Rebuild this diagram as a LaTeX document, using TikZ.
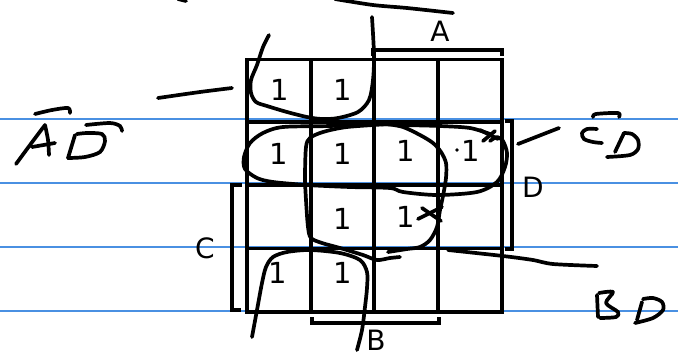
\documentclass[tikz,border=0pt]{standalone}
\usepackage{fontspec}
\setmainfont{DejaVu Sans}
\definecolor{ruleblue}{RGB}{74,144,226}
\begin{document}
\begin{tikzpicture}[x=1pt,y=-1pt,
  gridline/.style={line width=3.7pt, line cap=rect},
  ruled/.style={draw=ruleblue, line width=1.2pt},
  hand/.style={line width=3.7pt, line cap=round, line join=round},
  brk/.style={line width=3.3pt, line cap=butt, line join=miter},
  one/.style={font=\fontsize{29}{34}\selectfont, inner sep=0pt},
  lab/.style={font=\fontsize{28}{33}\selectfont, inner sep=0pt}]
\useasboundingbox (0,0) rectangle (678,360);
% ruled paper lines
\foreach \y in {119,183,247,311} \draw[ruled] (0,\y) -- (678,\y);
% K-map grid
\draw[gridline] (247,59.5) rectangle (502,312);
\foreach \x in {311,374,438} \draw[gridline] (\x,59.5) -- (\x,312);
\foreach \y in {122,185,248.5} \draw[gridline] (247,\y) -- (502,\y);
% brackets
\draw[brk] (373,56) -- (373,50) -- (502,50) -- (502,56);
\draw[brk] (505,121) -- (512,121) -- (512,249) -- (505,249);
\draw[brk] (242,185) -- (232,185) -- (232,310) -- (241,310);
\draw[brk] (312,317) -- (312,323) -- (439,323) -- (439,317);
\node[lab] (lA) at (440,31) {A};
\node[lab] (lD) at (533,187) {D};
\node[lab] (lC) at (205,248) {C};
\node[lab] (lB) at (376,340) {B};
% cell entries
\node[one] (c11) at (280,90) {1};
\node[one] (c12) at (343,90) {1};
\node[one] (c21) at (279,154) {1};
\node[one] (c22) at (343,154) {1};
\node[one] (c23) at (406,151) {1};
\node[one] (c24) at (471,151) {1};
\node[one] (c32) at (343,219) {1};
\node[one] (c33) at (406,217) {1};
\node[one] (c41) at (278,273) {1};
\node[one] (c42) at (343,273) {1};
\fill (457,150) circle (1.9);
% handwritten group loops
\draw[hand] plot[smooth] coordinates {(269,35) (263,47) (257,65) (251,80) (251,93) (256,102) (267,106) (287,112) (307,117) (322,119) (338,118) (358,112) (369,100) (373,80) (374,55) (372,17)};
\draw[hand] plot[smooth] coordinates {(490,134) (470,128) (440,126) (403,125) (370,124) (330,126) (283,127) (263,133) (250,143) (244,157) (245,169) (257,178) (273,182) (307,185) (350,187) (390,188) (403,192) (437,195) (477,192) (497,182) (505,167) (507,153) (503,141) (497,137) (490,141)};
\draw[hand] (480,130) -- (498,139);
\draw[hand] (483,141) -- (495,131);
\draw[hand] plot[smooth] coordinates {(390,124) (347,127) (323,132) (310,138) (306,147) (305,177) (306,200) (308,227) (311,238) (322,243) (340,248) (363,255) (377,260) (390,258) (400,257)};
\draw[hand] plot[smooth] coordinates {(388,252) (407,249) (420,247) (430,240) (437,227) (440,210) (443,196) (446,178) (446,163) (441,152) (433,143) (420,135) (403,127) (387,124)};
\draw[hand] (418,219) -- (442,207);
\draw[hand] (422,208) -- (441,221);
\draw[hand] plot[smooth] coordinates {(252,337) (257,310) (262,283) (266,267) (273,257) (287,252) (310,250) (340,253) (360,260) (367,272) (367,288) (365,307) (362,330) (357,350)};
% other strokes
\draw[hand] plot[smooth] coordinates {(335,-1) (373,5) (407,8) (453,13)};
\draw[hand] (178,-1) -- (186,1);
\draw[hand] plot[smooth] coordinates {(158,98) (200,92) (232,88)};
\draw[hand] (518,144) -- (559,128);
\draw[hand] plot[smooth] coordinates {(448,250) (503,256) (533,260) (553,264) (597,266)};
% A-bar D-bar
\draw[hand] plot[smooth] coordinates {(16,164) (30,145) (45,125)};
\draw[hand] plot[smooth] coordinates {(45,125) (48,140) (49,155)};
\draw[hand] (32,147) -- (55,143);
\draw[hand] plot[smooth] coordinates {(35,114) (52,110) (68,108) (70,113)};
\draw[hand] (75,135) -- (68,158);
\draw[hand] plot[smooth] coordinates {(68,158) (85,157) (100,152) (105,141) (102,134) (87,133) (77,134)};
\draw[hand] plot[smooth] coordinates {(86,125) (110,123) (120,126) (122,131)};
% C-bar D
\draw[hand] plot[smooth] coordinates {(593,117) (596,114) (618,113) (619,117)};
\draw[hand] plot[smooth] coordinates {(597,129) (587,129) (582,133) (584,139) (593,142) (602,143)};
\draw[hand] (624,133) -- (615,152);
\draw[hand] plot[smooth] coordinates {(607,157) (630,155) (638,149) (638,140) (632,134) (624,133)};
% B D
\draw[hand] (597,295) -- (598,317);
\draw[hand] plot[smooth] coordinates {(599,293) (613,292) (606,303) (618,312) (616,317) (600,318)};
\draw[hand] (642,302) -- (637,320);
\draw[hand] plot[smooth] coordinates {(635,323) (653,318) (663,310) (662,302) (653,298) (643,299)};
\end{tikzpicture}
\end{document}
